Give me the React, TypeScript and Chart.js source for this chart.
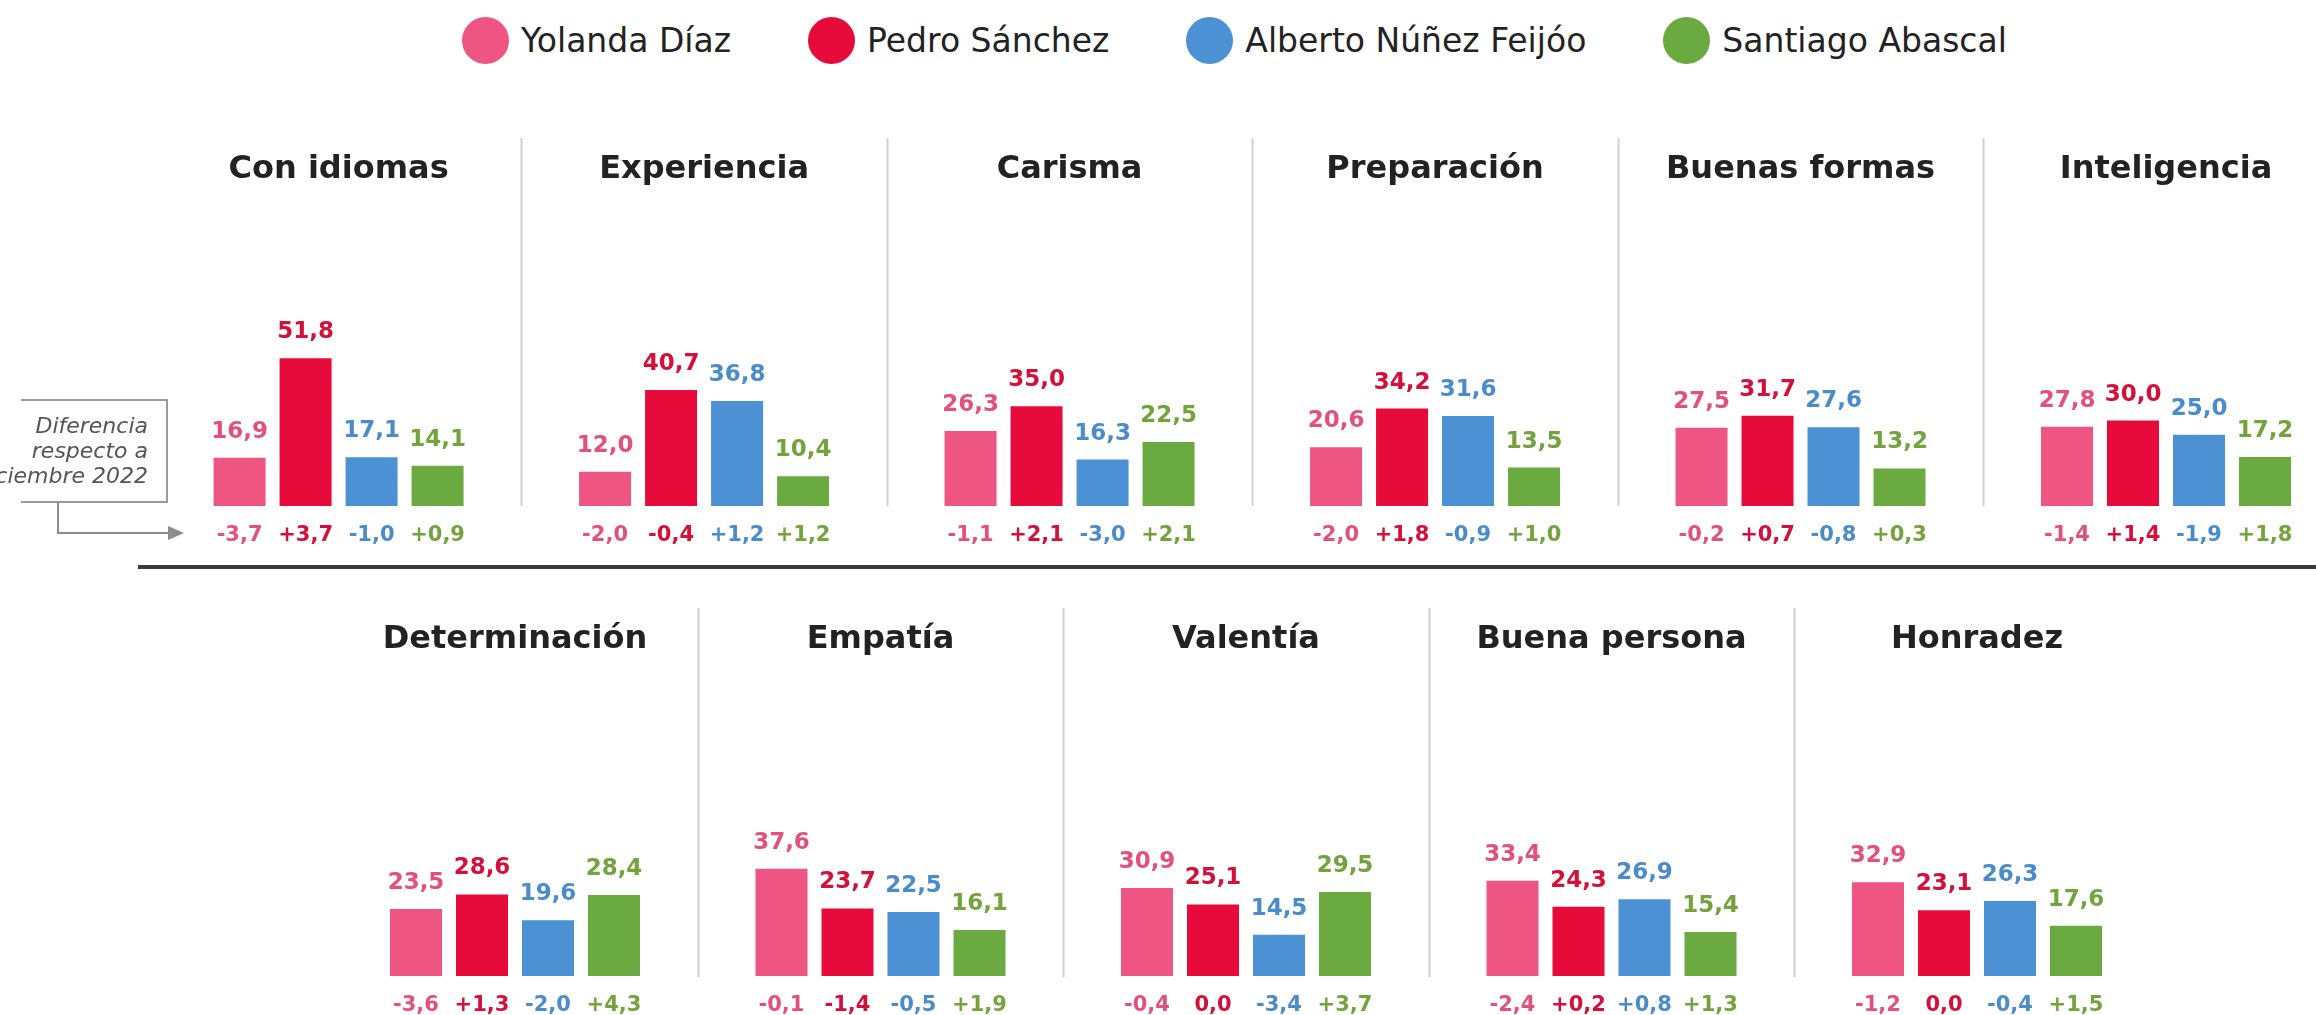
import React, { useEffect, useRef } from 'react';
import { Chart, registerables } from 'chart.js';

Chart.register(...registerables);

// ---------- data ----------
const SERIES_NAMES = ['Yolanda Díaz', 'Pedro Sánchez', 'Alberto Núñez Feijóo', 'Santiago Abascal'];
const BAR_COLORS = ['#EF5583', '#E60B3A', '#4B91D3', '#6BAA40'];
const TEXT_COLORS = ['#E4507D', '#D30F3A', '#4A8BCB', '#72A33C'];

const TOP_TRAITS = ['Con idiomas', 'Experiencia', 'Carisma', 'Preparación', 'Buenas formas', 'Inteligencia'];
const BOTTOM_TRAITS = ['Determinación', 'Empatía', 'Valentía', 'Buena persona', 'Honradez'];

const TOP_YOLANDA = [16.9, 12.0, 26.3, 20.6, 27.5, 27.8];
const TOP_PEDRO = [51.8, 40.7, 35.0, 34.2, 31.7, 30.0];
const TOP_ALBERTO = [17.1, 36.8, 16.3, 31.6, 27.6, 25.0];
const TOP_SANTIAGO = [14.1, 10.4, 22.5, 13.5, 13.2, 17.2];

const BOTTOM_YOLANDA = [23.5, 37.6, 30.9, 33.4, 32.9];
const BOTTOM_PEDRO = [28.6, 23.7, 25.1, 24.3, 23.1];
const BOTTOM_ALBERTO = [19.6, 22.5, 14.5, 26.9, 26.3];
const BOTTOM_SANTIAGO = [28.4, 16.1, 29.5, 15.4, 17.6];

const TOP_DIFF_YOLANDA = [-3.7, -2.0, -1.1, -2.0, -0.2, -1.4];
const TOP_DIFF_PEDRO = [3.7, -0.4, 2.1, 1.8, 0.7, 1.4];
const TOP_DIFF_ALBERTO = [-1.0, 1.2, -3.0, -0.9, -0.8, -1.9];
const TOP_DIFF_SANTIAGO = [0.9, 1.2, 2.1, 1.0, 0.3, 1.8];

const BOTTOM_DIFF_YOLANDA = [-3.6, -0.1, -0.4, -2.4, -1.2];
const BOTTOM_DIFF_PEDRO = [1.3, -1.4, 0.0, 0.2, 0.0];
const BOTTOM_DIFF_ALBERTO = [-2.0, -0.5, -3.4, 0.8, -0.4];
const BOTTOM_DIFF_SANTIAGO = [4.3, 1.9, 3.7, 1.3, 1.5];

const NOTE_LINES = ['Diferencia', 'respecto a', 'diciembre 2022'];

// ---------- layout / style ----------
const FONT = '"DejaVu Sans", "Noto Sans", sans-serif';
const PX_PER_UNIT = 2.85;

type RowLayout = {
  canvasTop: number;
  canvasW: number;
  canvasH: number;
  padLeft: number;
  padRight: number;
  chartTop: number;
  chartBottom: number;
  titleCenter: number;
  sepTop: number;
  sepBottom: number;
};

const TOP_LAYOUT: RowLayout = {
  canvasTop: 0, canvasW: 2400, canvasH: 570,
  padLeft: 155.85, padRight: 51.25,
  chartTop: 200, chartBottom: 506, titleCenter: 170,
  sepTop: 138, sepBottom: 506,
};
const BOTTOM_LAYOUT: RowLayout = {
  canvasTop: 570, canvasW: 2316, canvasH: 445,
  padLeft: 332.25, padRight: 156.25,
  chartTop: 130, chartBottom: 406, titleCenter: 70,
  sepTop: 38, sepBottom: 407,
};

const fmt = (v: number) => v.toFixed(1).replace('.', ',');
const fmtDiff = (v: number) => (v > 0 ? '+' : '') + fmt(v);

const separatorPlugin = {
  id: 'separators',
  beforeDatasetsDraw(chart: any, _args: any, opts: any) {
    const xs = chart.scales.x;
    const n = chart.data.labels.length;
    const ctx = chart.ctx;
    ctx.save();
    ctx.strokeStyle = opts.color;
    ctx.lineWidth = opts.width;
    for (let i = 0; i < n - 1; i++) {
      const px = Math.round((xs.getPixelForValue(i) + xs.getPixelForValue(i + 1)) / 2) + 0.5;
      ctx.beginPath();
      ctx.moveTo(px, opts.top);
      ctx.lineTo(px, opts.bottom);
      ctx.stroke();
    }
    ctx.restore();
  },
};

const labelPlugin = {
  id: 'barLabels',
  afterDatasetsDraw(chart: any) {
    const ctx = chart.ctx;
    const bottom = chart.chartArea.bottom;
    ctx.save();
    ctx.textAlign = 'center';
    ctx.textBaseline = 'alphabetic';
    chart.data.datasets.forEach((ds: any, i: number) => {
      const meta = chart.getDatasetMeta(i);
      meta.data.forEach((bar: any, j: number) => {
        ctx.fillStyle = TEXT_COLORS[i];
        ctx.font = `bold 23px ${FONT}`;
        ctx.fillText(fmt(ds.data[j]), bar.x, bar.y - 20);
        ctx.font = `bold 21px ${FONT}`;
        ctx.fillText(fmtDiff(ds.diffs[j]), bar.x, bottom + 35);
      });
    });
    ctx.restore();
  },
};

const notePlugin = {
  id: 'diffNote',
  afterDraw(chart: any) {
    const ctx = chart.ctx;
    ctx.save();
    ctx.strokeStyle = '#9a9a9a';
    ctx.lineWidth = 2;
    // box (its left side is cut off in the picture)
    ctx.beginPath();
    ctx.moveTo(21, 400);
    ctx.lineTo(167, 400);
    ctx.lineTo(167, 502);
    ctx.lineTo(21, 502);
    ctx.stroke();
    // arrow
    ctx.strokeStyle = '#8c8c8c';
    ctx.beginPath();
    ctx.moveTo(58, 502);
    ctx.lineTo(58, 533);
    ctx.lineTo(170, 533);
    ctx.stroke();
    ctx.fillStyle = '#8c8c8c';
    ctx.beginPath();
    ctx.moveTo(168, 526);
    ctx.lineTo(184, 533);
    ctx.lineTo(168, 540);
    ctx.closePath();
    ctx.fill();
    // text
    ctx.fillStyle = '#555555';
    ctx.font = `italic 22px ${FONT}`;
    ctx.textAlign = 'right';
    ctx.textBaseline = 'middle';
    NOTE_LINES.forEach((t, k) => ctx.fillText(t, 148, 427 + k * 25));
    ctx.restore();
  },
};

function BarRow(props: {
  layout: RowLayout;
  traits: string[];
  values: number[][];
  diffs: number[][];
  note?: boolean;
}) {
  const ref = useRef<HTMLCanvasElement | null>(null);
  const { layout, traits, values, diffs, note } = props;

  useEffect(() => {
    if (!ref.current) return;
    const plotH = layout.chartBottom - layout.chartTop;
    const chart = new Chart(ref.current, {
      type: 'bar',
      data: {
        labels: traits,
        datasets: values.map((vals, i) => ({
          label: SERIES_NAMES[i],
          data: vals,
          diffs: diffs[i],
          backgroundColor: BAR_COLORS[i],
          borderWidth: 0,
          categoryPercentage: 0.7223,
          barPercentage: 0.788,
        })) as any,
      },
      options: {
        animation: false,
        responsive: false,
        maintainAspectRatio: false,
        layout: {
          padding: {
            left: layout.padLeft,
            right: layout.padRight,
            top: 0,
            bottom: layout.canvasH - layout.chartBottom,
          },
        },
        plugins: {
          legend: { display: false },
          tooltip: { enabled: false },
          separators: {
            top: layout.sepTop,
            bottom: layout.sepBottom,
            color: '#d2d2d2',
            width: 2,
          },
        } as any,
        scales: {
          x: {
            position: 'top',
            grid: { display: false, drawTicks: false },
            border: { display: false },
            ticks: {
              autoSkip: false,
              maxRotation: 0,
              color: '#222222',
              font: { family: FONT, size: 32, weight: 'bold' },
              padding: layout.chartTop - layout.titleCenter - 19.2,
            },
            afterFit: (s: any) => {
              s.height = layout.chartTop;
            },
          },
          y: {
            display: false,
            min: 0,
            max: plotH / PX_PER_UNIT,
          },
        },
      },
      plugins: note ? [separatorPlugin, labelPlugin, notePlugin] : [separatorPlugin, labelPlugin],
    });
    return () => chart.destroy();
  }, []);

  return (
    <canvas
      ref={ref}
      width={layout.canvasW}
      height={layout.canvasH}
      style={{
        position: 'absolute',
        left: 0,
        top: layout.canvasTop,
        width: layout.canvasW,
        height: layout.canvasH,
        display: 'block',
      }}
    />
  );
}

function Legend() {
  return (
    <div
      style={{
        position: 'absolute',
        left: 462,
        top: 17,
        display: 'flex',
        alignItems: 'center',
        gap: 77,
        fontFamily: FONT,
        fontSize: 33,
        color: '#222222',
        whiteSpace: 'nowrap',
      }}
    >
      {SERIES_NAMES.map((name, i) => (
        <div key={name} style={{ display: 'flex', alignItems: 'center', height: 47 }}>
          <div
            style={{
              width: 47,
              height: 47,
              borderRadius: '50%',
              background: BAR_COLORS[i],
              marginRight: 12,
            }}
          />
          <span style={{ lineHeight: '47px' }}>{name}</span>
        </div>
      ))}
    </div>
  );
}

export default function App() {
  return (
    <div
      style={{
        position: 'fixed',
        left: 0,
        top: 0,
        width: 2316,
        height: 1015,
        overflow: 'hidden',
        background: '#ffffff',
      }}
    >
      <Legend />
      <BarRow
        layout={TOP_LAYOUT}
        traits={TOP_TRAITS}
        values={[TOP_YOLANDA, TOP_PEDRO, TOP_ALBERTO, TOP_SANTIAGO]}
        diffs={[TOP_DIFF_YOLANDA, TOP_DIFF_PEDRO, TOP_DIFF_ALBERTO, TOP_DIFF_SANTIAGO]}
        note
      />
      <div
        style={{
          position: 'absolute',
          left: 138,
          right: 0,
          top: 565,
          height: 4,
          background: '#3a3a3a',
        }}
      />
      <BarRow
        layout={BOTTOM_LAYOUT}
        traits={BOTTOM_TRAITS}
        values={[BOTTOM_YOLANDA, BOTTOM_PEDRO, BOTTOM_ALBERTO, BOTTOM_SANTIAGO]}
        diffs={[BOTTOM_DIFF_YOLANDA, BOTTOM_DIFF_PEDRO, BOTTOM_DIFF_ALBERTO, BOTTOM_DIFF_SANTIAGO]}
      />
    </div>
  );
}
